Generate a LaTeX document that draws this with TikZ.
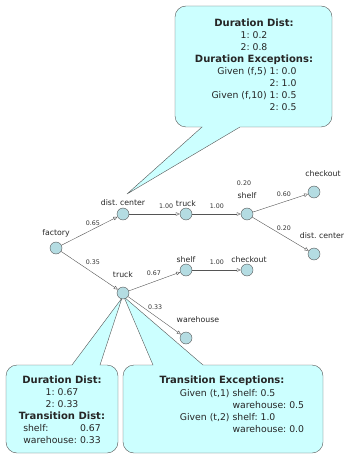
\documentclass[tikz,border=0pt]{standalone}
\usepackage{fontspec}
\setmainfont{DejaVu Sans}
\usetikzlibrary{arrows.meta, positioning}
\frenchspacing
\definecolor{statefill}{RGB}{180,220,226}
\definecolor{bubblefill}{RGB}{204,255,255}
\definecolor{linegray}{RGB}{85,85,85}
\newcommand{\notehead}[1]{{\fontsize{10}{12}\selectfont\bfseries #1}}
\tikzset{
  state/.style={circle, draw=linegray, fill=statefill, minimum size=12pt, inner sep=0pt,
    label distance=7pt},
  trans/.style={draw=linegray, -{Triangle[open, length=4pt, width=3.5pt]}},
  prob/.style={font=\fontsize{6.3}{7.5}\selectfont, text=black!80, inner sep=1pt},
  lbl/.style={font=\fontsize{7.8}{9.5}\selectfont, text=black!85, inner sep=1pt},
  bubble/.style={draw=linegray, fill=bubblefill},
  note/.style={font=\fontsize{9.3}{12}\selectfont, text=black!85, align=center, inner sep=0pt}
}
\begin{document}
\begin{tikzpicture}[x=1pt, y=-1pt]
    \useasboundingbox (0,0) rectangle (344,454);
    % 1. Bong bóng ghi chú
    \coordinate (tipdc) at (127,194);
    \coordinate (tipl) at (122,298);
    \coordinate (tipr) at (124,297);
    \draw[bubble] (tipdc) -- (240,127) {[rounded corners=11pt] -- (332,127) -- (332,6)
        -- (175,6) -- (175,127)} -- (202,127) -- cycle;
    \draw[bubble] (tipl) -- (100,365) {[rounded corners=11pt] -- (118,365) -- (118,453)
        -- (6,453) -- (6,365)} -- (72,365) -- cycle;
    \draw[bubble] (tipr) -- (203,365) {[rounded corners=11pt] -- (323,365) -- (323,453)
        -- (123,453) -- (123,365)} -- (153,365) -- cycle;

    % 2. Các trạng thái
    \node[state, label={[lbl, label distance=3pt]above:factory}] (fac) at (56,248) {};
    \node[state, label={[lbl, label distance=1pt]above:dist. center}] (dc) at (123,214) {};
    \node[state, label={[lbl]above:truck}] (tt) at (186,214) {};
    \node[state, label={[lbl, label distance=8pt]above:shelf}] (st) at (247,214) {};
    \node[state, label={[lbl, label distance=8pt, xshift=9pt]above:checkout}] (co) at (314,192) {};
    \node[state, label={[lbl, label distance=8pt, xshift=8pt]above:dist. center}] (dcr) at (314,254) {};
    \node[state, label={[lbl, label distance=8pt]above:truck}] (tb) at (123,293) {};
    \node[state, label={[lbl]above:shelf}] (sb) at (186,270) {};
    \node[state, label={[lbl, xshift=2pt]above:checkout}] (cb) at (247,270) {};
    \node[state, label={[lbl, label distance=8pt, xshift=12pt]above:warehouse}] (wh) at (186,338) {};
    \node[prob] (stay) at (244,183) {0.20};

    % 3. Các chuyển tiếp
    \draw[trans] (fac) -- node[prob, pos=.56, above=3pt] {0.65} (dc);
    \draw[trans] (fac) -- node[prob, pos=.56, above=7pt] {0.35} (tb);
    \draw[trans] (dc) -- node[prob, pos=.73, above=4.5pt] {1.00} (tt);
    \draw[trans] (tt) -- node[prob, pos=.51, above=4.5pt] {1.00} (st);
    \draw[trans] (st) -- node[prob, pos=.56, above=4.5pt] {0.60} (co);
    \draw[trans] (st) -- node[prob, pos=.56, above=4.5pt] {0.20} (dcr);
    \draw[trans] (tb) -- node[prob, pos=.49, above=5pt] {0.67} (sb);
    \draw[trans] (sb) -- node[prob, pos=.51, above=4.5pt] {1.00} (cb);
    \draw[trans] (tb) -- node[prob, pos=.51, above=5.5pt] {0.33} (wh);

    % 4. Nội dung ghi chú
    \node[note] (durdc) at (254,67) {\notehead{Duration Dist:}\\ 1: 0.2\\ 2: 0.8\\
        \notehead{Duration Exceptions:}\\
        \begin{tabular}[t]{@{}r@{ }l@{}}Given (f,5) & 1: 0.0\\ & 2: 1.0\\
        Given (f,10) & 1: 0.5\\ & 2: 0.5\end{tabular}};
    \node[note] (durtb) at (62,411) {\notehead{Duration Dist:}\\ 1: 0.67\\ 2: 0.33\\
        \notehead{Transition Dist:}\\
        \begin{tabular}[t]{@{}l@{ }r@{}}shelf: & 0.67\\ warehouse: & 0.33\end{tabular}};
    \node[note] (exctitle) at (222,381) {\notehead{Transition Exceptions:}};
    \node[note] (exctb) at (242,412) {\begin{tabular}{@{}l@{ }l@{}}Given (t,1) & shelf: 0.5\\
        & warehouse: 0.5\\ Given (t,2) & shelf: 1.0\\ & warehouse: 0.0\end{tabular}};
\end{tikzpicture}
\end{document}
